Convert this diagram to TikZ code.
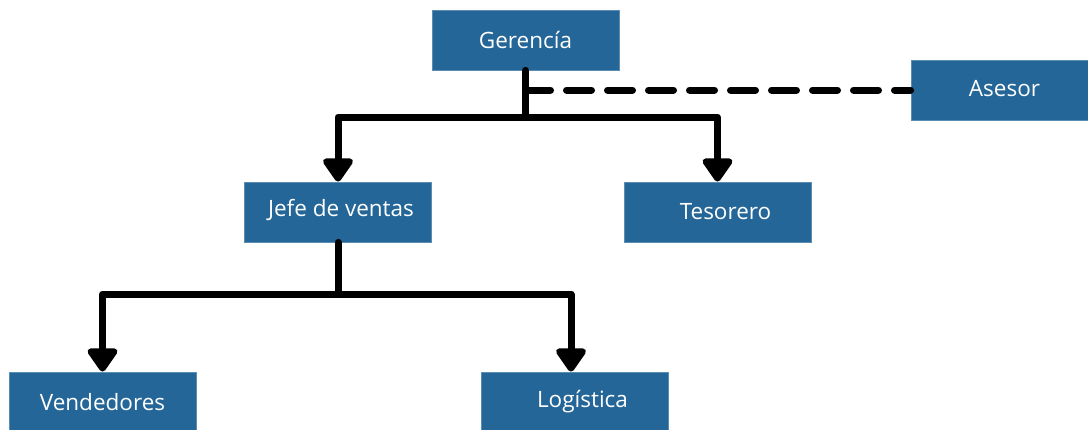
\documentclass[tikz,border=0pt]{standalone}
\usepackage{fontspec}
\setmainfont{Open Sans}
\usetikzlibrary{arrows.meta}
\definecolor{azul}{RGB}{36,102,152}

\begin{document}
\begin{tikzpicture}[x=1pt,y=-1pt,>={Triangle[width=34pt,length=26pt,round]},
	caja/.style={fill=azul,draw=azul!75!white,line width=0.8pt,minimum width=187pt,minimum height=60pt,inner sep=0pt,text=white,font=\fontsize{22.5}{26}\selectfont},
	linea/.style={line width=7pt,line join=round,line cap=round},
	trazos/.style={linea,dash pattern=on 25pt off 16pt}]
\useasboundingbox (0,0) rectangle (1088,429);
\clip (0,0) rectangle (1088,429);
% cajas
\node[caja] (ger) at (525.5,40) {Gerencía};
\node[caja] (ase) at (1004.5,90) {\raisebox{3pt}{Asesor}};
\node[caja] (jefe) at (338,212) {\hspace*{6pt}\raisebox{8pt}{Jefe de ventas}};
\node[caja] (teso) at (717.5,212) {\hspace*{16pt}Tesorero};
\node[caja] (vend) at (102.5,402) {Vendedores};
\node[caja] (logi) at (574.5,402) {\hspace*{16pt}Logística};
% ramas
\coordinate (ramaA) at (ger.south |- 0,117);
\coordinate (ramaB) at (jefe.south |- 0,294);
\draw[linea] (ger.south) -- (ramaA);
\draw[linea,->] (ramaA) -| (jefe.north);
\draw[linea,->] (ramaA) -| (teso.north);
\draw[trazos] (ger.south |- ase.west) -- (ase.west);
\draw[linea] (jefe.south) -- (ramaB);
\draw[linea,->] (ramaB) -| (vend.north);
\draw[linea,->] (ramaB) -| ([xshift=-3.5pt]logi.north);
\end{tikzpicture}
\end{document}
